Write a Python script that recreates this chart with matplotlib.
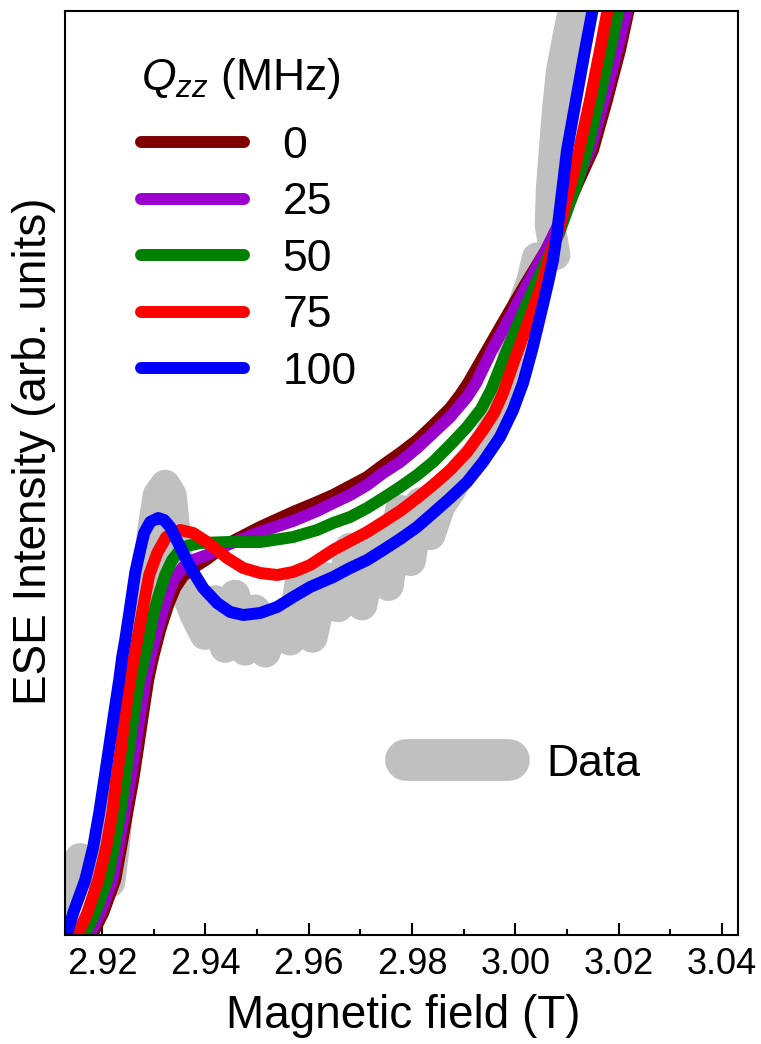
import matplotlib
matplotlib.use("Agg")
import matplotlib.pyplot as plt
from matplotlib.ticker import MultipleLocator, FormatStrFormatter
from matplotlib.lines import Line2D

plt.rcParams['font.family'] = ['Liberation Sans', 'DejaVu Sans']
plt.rcParams['mathtext.fontset'] = 'custom'
plt.rcParams['mathtext.rm'] = 'Liberation Sans'
plt.rcParams['mathtext.it'] = 'Liberation Sans:italic'

# ---------------- data ----------------
data_field = [2.9119, 2.9138, 2.9157, 2.9177, 2.9196, 2.9215, 2.9223, 2.9231, 2.9241, 2.9250,
              2.9262, 2.9274, 2.9281, 2.9289, 2.9293, 2.9299, 2.9308, 2.9322, 2.9334, 2.9341,
              2.9347, 2.9361, 2.9380, 2.9399, 2.9419, 2.9438, 2.9457, 2.9477, 2.9496, 2.9516,
              2.9539, 2.9564, 2.9583, 2.9607, 2.9632, 2.9657, 2.9680, 2.9703, 2.9729, 2.9754,
              2.9777, 2.9797, 2.9816, 2.9835, 2.9854, 2.9874, 2.9897, 2.9922, 2.9945, 2.9965,
              2.9980, 2.9994, 3.0003, 3.0015, 3.0032, 3.0042, 3.0077, 3.0067, 3.0069, 3.0075,
              3.0081, 3.0089, 3.0102, 3.0112, 3.0122]
data_int = [0.038, 0.060, 0.083, 0.079, 0.062, 0.057, 0.092, 0.141, 0.179, 0.211,
            0.249, 0.287, 0.325, 0.368, 0.417, 0.444, 0.476, 0.487, 0.476, 0.438,
            0.400, 0.373, 0.346, 0.325, 0.362, 0.311, 0.368, 0.308, 0.352, 0.306,
            0.341, 0.319, 0.381, 0.322, 0.387, 0.355, 0.419, 0.357, 0.426, 0.378,
            0.460, 0.405, 0.468, 0.433, 0.464, 0.481, 0.503, 0.519, 0.536, 0.557,
            0.588, 0.622, 0.655, 0.682, 0.709, 0.733, 0.736, 0.768, 0.806, 0.850,
            0.893, 0.936, 0.974, 1.001, 1.034]

sim0_field = [2.91826, 2.92019, 2.92252, 2.92368, 2.92484, 2.92600, 2.92697, 2.92794, 2.92890, 2.92987,
              2.93123, 2.93277, 2.93413, 2.93568, 2.93761, 2.94032, 2.94419, 2.95058, 2.95697, 2.96161,
              2.96471, 2.96800, 2.97129, 2.97439, 2.97768, 2.98097, 2.98407, 2.98736, 2.98929, 2.99084,
              2.99452, 2.99819, 3.00206, 3.00594, 3.00923, 3.01213, 3.01503, 3.01774, 3.02026, 3.02181,
              3.02316]
sim0_int = [0.0022, 0.0238, 0.0595, 0.0952, 0.1320, 0.1677, 0.2035, 0.2403, 0.2760, 0.3009,
            0.3301, 0.3571, 0.3755, 0.3885, 0.3972, 0.4069, 0.4232, 0.4416, 0.4578, 0.4686,
            0.4762, 0.4859, 0.4957, 0.5087, 0.5216, 0.5357, 0.5519, 0.5703, 0.5844, 0.5974,
            0.6331, 0.6688, 0.7056, 0.7413, 0.7771, 0.8139, 0.8496, 0.9037, 0.9578, 0.9978,
            1.0335]

sim25_field = [2.91768, 2.91961, 2.92194, 2.92310, 2.92426, 2.92542, 2.92639, 2.92735, 2.92832, 2.92929,
               2.93065, 2.93219, 2.93374, 2.93568, 2.93761, 2.94032, 2.94419, 2.95058, 2.95697, 2.96161,
               2.96471, 2.96800, 2.97129, 2.97439, 2.97768, 2.98097, 2.98407, 2.98736, 2.99065, 2.99239,
               2.99548, 2.99897, 3.00245, 3.00594, 3.00903, 3.01174, 3.01445, 3.01716, 3.01968, 3.02142,
               3.02278]
sim25_int = [0.0022, 0.0238, 0.0595, 0.0952, 0.1320, 0.1677, 0.2035, 0.2403, 0.2760, 0.3009,
             0.3301, 0.3593, 0.3842, 0.3983, 0.4058, 0.4113, 0.4221, 0.4361, 0.4481, 0.4589,
             0.4675, 0.4762, 0.4870, 0.5000, 0.5119, 0.5271, 0.5433, 0.5606, 0.5823, 0.5974,
             0.6331, 0.6688, 0.7056, 0.7413, 0.7771, 0.8139, 0.8496, 0.9037, 0.9578, 0.9978,
             1.0335]

sim50_field = [2.91671, 2.91865, 2.92097, 2.92232, 2.92348, 2.92445, 2.92523, 2.92619, 2.92716, 2.92871,
               2.92987, 2.93084, 2.93219, 2.93355, 2.93510, 2.93645, 2.93897, 2.94419, 2.95058, 2.95697,
               2.96161, 2.96471, 2.96800, 2.97129, 2.97439, 2.97768, 2.98097, 2.98407, 2.98736, 2.99065,
               2.99336, 2.99529, 2.99684, 2.99839, 3.00110, 3.00400, 3.00652, 3.00845, 3.01194, 3.01387,
               3.01619, 3.01832, 3.01987, 3.02123]
sim50_int = [0.0022, 0.0238, 0.0595, 0.0952, 0.1320, 0.1677, 0.2035, 0.2403, 0.2760, 0.3117,
             0.3463, 0.3658, 0.3896, 0.4058, 0.4167, 0.4210, 0.4242, 0.4253, 0.4253, 0.4307,
             0.4383, 0.4459, 0.4524, 0.4621, 0.4729, 0.4848, 0.4978, 0.5119, 0.5303, 0.5498,
             0.5693, 0.5898, 0.6115, 0.6331, 0.6688, 0.7056, 0.7359, 0.7597, 0.8139, 0.8496,
             0.9037, 0.9578, 0.9978, 1.0335]

sim75_field = [2.91535, 2.91710, 2.91923, 2.92077, 2.92194, 2.92271, 2.92368, 2.92445, 2.92561, 2.92677,
               2.92794, 2.92910, 2.93065, 2.93239, 2.93510, 2.93761, 2.94032, 2.94419, 2.94729, 2.95058,
               2.95387, 2.95697, 2.96026, 2.96471, 2.96800, 2.97129, 2.97439, 2.97768, 2.98097, 2.98407,
               2.98736, 2.99065, 2.99374, 2.99587, 2.99761, 2.99916, 3.00052, 3.00284, 3.00400, 3.00516,
               3.00671, 3.00826, 3.01077, 3.01232, 3.01445, 3.01639, 3.01774, 3.01910]
sim75_int = [0.0022, 0.0238, 0.0595, 0.0952, 0.1320, 0.1677, 0.2035, 0.2403, 0.2835, 0.3193,
             0.3550, 0.3896, 0.4134, 0.4307, 0.4383, 0.4351, 0.4253, 0.4080, 0.3972, 0.3918,
             0.3896, 0.3929, 0.4004, 0.4167, 0.4264, 0.4361, 0.4470, 0.4589, 0.4729, 0.4870,
             0.5032, 0.5227, 0.5465, 0.5649, 0.5866, 0.6115, 0.6331, 0.6688, 0.6872, 0.7056,
             0.7359, 0.7597, 0.8139, 0.8496, 0.9037, 0.9578, 0.9978, 1.0335]

sim100_field = [2.91323, 2.91439, 2.91671, 2.91826, 2.91942, 2.92039, 2.92135, 2.92232, 2.92329, 2.92387,
                2.92445, 2.92542, 2.92639, 2.92735, 2.92813, 2.92929, 2.93084, 2.93200, 2.93316, 2.93510,
                2.93703, 2.93955, 2.94226, 2.94477, 2.94729, 2.95058, 2.95387, 2.95697, 2.96026, 2.96471,
                2.96800, 2.97129, 2.97439, 2.97768, 2.98097, 2.98407, 2.98736, 2.99065, 2.99374, 2.99703,
                2.99955, 3.00148, 3.00323, 3.00477, 3.00555, 3.00632, 3.00729, 3.00806, 3.00923, 3.01000,
                3.01174, 3.01348, 3.01484, 3.01600]
sim100_int = [0.0022, 0.0238, 0.0595, 0.0952, 0.1320, 0.1677, 0.2035, 0.2403, 0.2760, 0.3009,
              0.3193, 0.3550, 0.3918, 0.4167, 0.4351, 0.4470, 0.4513, 0.4491, 0.4416, 0.4199,
              0.3983, 0.3755, 0.3593, 0.3496, 0.3463, 0.3485, 0.3550, 0.3658, 0.3766, 0.3874,
              0.3972, 0.4058, 0.4167, 0.4286, 0.4416, 0.4567, 0.4729, 0.4903, 0.5119, 0.5390,
              0.5682, 0.5974, 0.6331, 0.6688, 0.6872, 0.7056, 0.7305, 0.7597, 0.8139, 0.8496,
              0.9037, 0.9578, 0.9978, 1.0335]

qzz_labels = ['0', '25', '50', '75', '100']
sim_colors = ['#7f0000', '#9900cc', '#008000', '#ff0000', '#0000ff']
x_ticks = [2.92, 2.94, 2.96, 2.98, 3.00, 3.02, 3.04]

# ---------------- figure ----------------
fig = plt.figure(figsize=(7.61, 10.44), dpi=100)
ax = fig.add_axes([65/761, 1-935/1044, 673/761, 924/1044])

ax.plot(data_field, data_int, color='#c0c0c0', lw=22,
        solid_capstyle='round', solid_joinstyle='round', zorder=1)

sims = [(sim0_field, sim0_int), (sim25_field, sim25_int), (sim50_field, sim50_int),
        (sim75_field, sim75_int), (sim100_field, sim100_int)]
sim_lines = []
for (fx, fy), c, lab in zip(sims, sim_colors, qzz_labels):
    ln, = ax.plot(fx, fy, color=c, lw=8.6, solid_capstyle='round',
                  solid_joinstyle='round', zorder=2, label=lab)
    sim_lines.append(ln)

ax.set_xlim(2.9128, 3.0431)
ax.set_ylim(0, 1)
ax.set_xticks(x_ticks)
ax.xaxis.set_minor_locator(MultipleLocator(0.01))
ax.xaxis.set_major_formatter(FormatStrFormatter('%.2f'))
ax.set_yticks([])
ax.tick_params(axis='x', which='major', direction='in', length=8.6, width=1.5,
               labelsize=26, pad=8.5, top=False)
ax.tick_params(axis='x', which='minor', direction='in', length=4.3, width=1.5, top=False)
for sp in ax.spines.values():
    sp.set_linewidth(1.5)

ax.set_xlabel('Magnetic field (T)', fontsize=33)
ax.xaxis.set_label_coords(0.503, -0.0635)
ax.set_ylabel('ESE Intensity (arb. units)', fontsize=33)
ax.yaxis.set_label_coords(-0.013, 0.523)

leg1 = ax.legend(handles=sim_lines, loc='upper left', bbox_to_anchor=(0.113, 0.951),
                 frameon=False, fontsize=32, title='$Q_{zz}$ (MHz)', title_fontsize=32,
                 handlelength=2.32, handletextpad=0.86, labelspacing=0.35,
                 borderpad=0, borderaxespad=0)
leg1._legend_box.align = 'left'
leg1._legend_box.sep = 17.5
ax.add_artist(leg1)

h_data = Line2D([], [], color='#c0c0c0', lw=30, solid_capstyle='round')
ax.legend(handles=[h_data], labels=['Data'], loc='center left',
          bbox_to_anchor=(0.5067, 0.185), frameon=False, fontsize=32,
          handlelength=2.32, handletextpad=0.83, borderpad=0, borderaxespad=0)

fig.savefig('out.png', dpi=100)
